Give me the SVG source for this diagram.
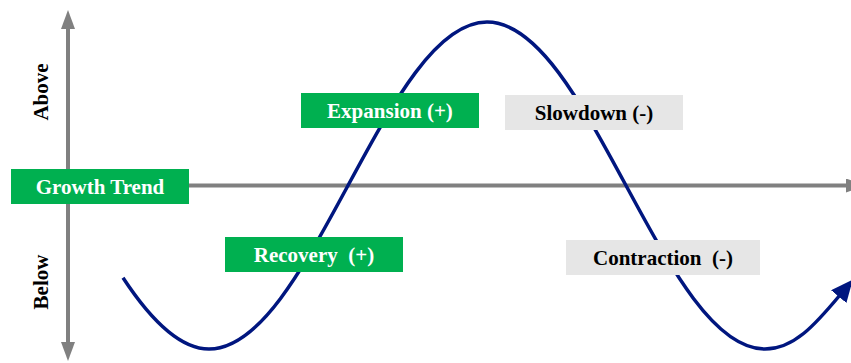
<svg xmlns="http://www.w3.org/2000/svg" width="851" height="363" viewBox="0 0 851 363">
<style>
.axis{stroke:#808080;stroke-width:4;fill:none}
.green{fill:#00B050}
.grey{fill:#E6E6E6}
.lbl{font-family:"Liberation Serif","Times New Roman",serif;font-weight:bold;font-size:21px;text-anchor:middle}
.w{fill:#FFFFFF}
.k{fill:#000000}
.curve{stroke:#00167F;stroke-width:3.5;fill:none}
</style>
<defs>
<marker id="ga" markerWidth="19" markerHeight="14" refX="1" refY="7" orient="auto" markerUnits="userSpaceOnUse">
<path d="M0,0 L19,7 L0,14 Z" fill="#808080"/>
</marker>
<marker id="ba" markerWidth="22" markerHeight="20" refX="2" refY="10" orient="auto" markerUnits="userSpaceOnUse">
<path d="M0,0 L22,10 L0,20 Z" fill="#00167F"/>
</marker>
</defs>
<g id="connectors">
<line class="axis" x1="68" y1="175" x2="68" y2="28" marker-end="url(#ga)"/>
<line class="axis" x1="68" y1="200" x2="68" y2="343" marker-end="url(#ga)"/>
<line class="axis" x1="185" y1="185.5" x2="847" y2="185.5" marker-end="url(#ga)"/>
<path class="curve" d="M123,277.7 C151.7,321.4 180.3,349 209,349 C259.3,349 302.7,269.3 348,185.5 C393.3,101.7 436.7,22 487,22 C537.3,22 580.7,101.7 626,185.5 C671.3,269.3 714.7,349 765,349 C793.7,349 815,325 840,295" marker-end="url(#ba)"/>
</g>
<g id="above"><text class="lbl k" transform="translate(48,92) rotate(-90)">Above</text></g>
<g id="below"><text class="lbl k" transform="translate(48,282) rotate(-90)">Below</text></g>
<g id="growth-trend"><rect class="green" x="11" y="169" width="178" height="35"/><text class="lbl w" x="100" y="193.5">Growth Trend</text></g>
<g id="expansion"><rect class="green" x="301" y="93" width="178" height="35"/><text class="lbl w" x="390" y="117.5">Expansion (+)</text></g>
<g id="slowdown"><rect class="grey" x="505" y="95" width="178" height="35"/><text class="lbl k" x="594" y="119.5">Slowdown (-)</text></g>
<g id="recovery"><rect class="green" x="225" y="237" width="178" height="35"/><text class="lbl w" x="314" y="261.5" xml:space="preserve">Recovery  (+)</text></g>
<g id="contraction"><rect class="grey" x="566" y="240" width="194" height="35"/><text class="lbl k" x="663" y="264.5" xml:space="preserve">Contraction  (-)</text></g>
</svg>
